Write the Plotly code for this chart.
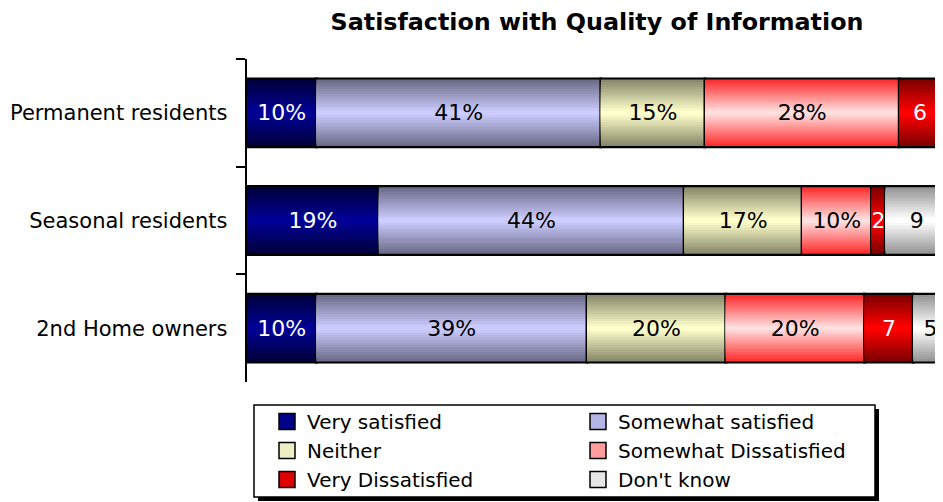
import plotly.graph_objects as go

categories = ["Permanent residents", "Seasonal residents", "2nd Home owners"]
series = ["Very satisfied", "Somewhat satisfied", "Neither",
          "Somewhat Dissatisfied", "Very Dissatisfied", "Don't know"]
very_satisfied = [10, 19, 10]
somewhat_satisfied = [41, 44, 39]
neither = [15, 17, 20]
somewhat_dissatisfied = [28, 10, 20]
very_dissatisfied = [6, 2, 7]
dont_know = [0, 9, 5]

values = [very_satisfied, somewhat_satisfied, neither,
          somewhat_dissatisfied, very_dissatisfied, dont_know]
# (edge colour, centre colour) of the shaded bars
shades = [((0, 0, 60), (0, 0, 150)),
          ((108, 108, 138), (204, 204, 255)),
          ((138, 138, 108), (255, 255, 204)),
          ((255, 48, 48), (255, 222, 222)),
          ((128, 0, 0), (255, 0, 0)),
          ((150, 150, 150), (255, 255, 255))]
swatch_colors = ["#000088", "#B4B4E6", "#EEEEC4", "#FF9C9C", "#E00000", "#E6E6E6"]
text_colors = ["white", "black", "black", "black", "white", "black"]
with_pct = [True, True, True, True, False, False]

BAR_W = 0.63
N_LAYERS = 14
FONT = "DejaVu Sans"

fig = go.Figure()
bases = [0, 0, 0]
for name, vals, (edge, centre), swatch, tcol, pct in zip(
        series, values, shades, swatch_colors, text_colors, with_pct):
    # outlined bar
    fig.add_trace(go.Bar(
        y=categories, x=vals, base=list(bases), orientation="h",
        width=BAR_W,
        marker=dict(color=swatch, line=dict(color="black", width=3)),
        name=name, showlegend=False, hoverinfo="skip",
    ))
    # shading layers: wide dark band outside, narrow light band inside
    for k in range(N_LAYERS):
        t = k / (N_LAYERS - 1)
        rgb = tuple(round(e + (c - e) * t) for e, c in zip(edge, centre))
        fig.add_trace(go.Bar(
            y=categories, x=vals, base=list(bases), orientation="h",
            width=(BAR_W - 0.012) * (1 - k / N_LAYERS),
            marker=dict(color="rgb(%d,%d,%d)" % rgb, line=dict(width=0)),
            name=name, showlegend=False, hoverinfo="skip",
        ))
    labels = [("%d%%" % v if pct else "%d" % v) if v else "" for v in vals]
    # labels on top
    fig.add_trace(go.Bar(
        y=categories, x=vals, base=list(bases), orientation="h",
        width=BAR_W,
        marker=dict(color="rgba(0,0,0,0)", line=dict(width=0)),
        name=name, showlegend=False,
        text=labels, textposition="inside", insidetextanchor="middle",
        textfont=dict(color=tcol, size=22, family=FONT),
    ))
    bases = [b + v for b, v in zip(bases, vals)]

# legend-only entries, so the swatches are bigger squares
for name, swatch in zip(series, swatch_colors):
    fig.add_trace(go.Scatter(
        x=[None], y=[None], mode="markers", name=name,
        marker=dict(symbol="square", size=16, color=swatch,
                    line=dict(color="black", width=1.5)),
    ))

# page has an 8px body margin; plot area sits at 247..943 x 59..382 on screen
def px_x(p):
    return (p - 247) / 696.0

def px_y(p):
    return (382 - p) / 323.0

fig.add_shape(type="rect", xref="paper", yref="paper",
              x0=px_x(258), x1=px_x(879), y0=px_y(409), y1=px_y(501),
              fillcolor="black", line=dict(width=0), layer="below")
fig.add_shape(type="rect", xref="paper", yref="paper",
              x0=px_x(254), x1=px_x(875), y0=px_y(405), y1=px_y(497),
              fillcolor="white", line=dict(color="black", width=1.5),
              layer="below")

fig.update_layout(
    width=935, height=494,
    barmode="overlay",
    plot_bgcolor="white", paper_bgcolor="white",
    margin=dict(l=239, r=0, t=51, b=120, autoexpand=False),
    font=dict(family=FONT, size=21, color="black"),
    title=dict(text="<b>Satisfaction with Quality of Information</b>",
               x=(597 - 8) / 935, xanchor="center",
               y=1 - 13.5 / 494, yanchor="middle",
               font=dict(size=23.8)),
    uniformtext=dict(minsize=22, mode="show"),
    showlegend=True,
    legend=dict(
        orientation="h", x=px_x(267), xanchor="left",
        y=px_y(402), yanchor="top",
        entrywidth=266, entrywidthmode="pixels",
        traceorder="normal",
        bgcolor="rgba(0,0,0,0)", borderwidth=0,
        font=dict(size=20),
    ),
)
fig.update_xaxes(range=[0, 100.3], visible=False, fixedrange=True)
fig.update_yaxes(
    autorange="reversed", automargin=False,
    showline=True, linecolor="black", linewidth=2,
    ticks="outside", tickson="boundaries", ticklen=9, tickwidth=2,
    tickcolor="black", showgrid=False, ticksuffix="  ",
    tickfont=dict(size=21),
)

fig.write_html("out.html")
